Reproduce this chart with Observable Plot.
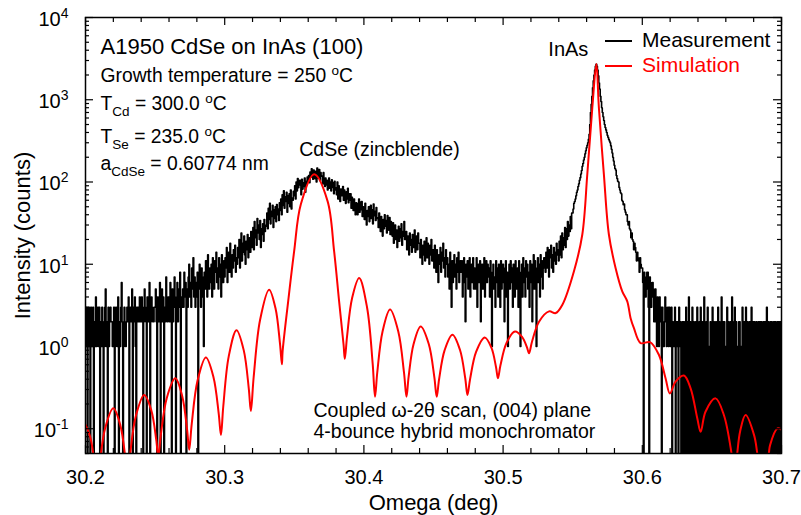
<!DOCTYPE html>
<html>
<head>
<meta charset="utf-8">
<script src="https://cdn.jsdelivr.net/npm/d3@7"></script>
<script src="https://cdn.jsdelivr.net/npm/@observablehq/plot@0.6"></script>
<style>
  html, body { margin: 0; padding: 0; background: #fff; }
  #chart svg { display: block; }
</style>
</head>
<body>
<div id="chart"></div>
<script>
// ---- Measured ω-2θ scan: detector counts every 0.0005° from 30.2000° to 30.7000° ----
// one row = 0.01°
const counts3020 = [
  2,1,3,0,2,3,1,0,3,2,1,3,0,2,1,4,1,2,3,1,
  3,0,2,1,3,2,0,1,3,5,1,2,0,3,1,2,3,2,2,1,
  2,3,0,1,3,2,1,4,0,2,1,3,6,2,0,1,3,2,1,2,
  3,2,4,0,2,3,2,5,0,3,2,4,1,0,3,2,3,2,4,2,
  2,4,3,0,2,5,3,2,0,4,2,3,6,0,2,4,3,2,2,3,
  3,5,2,0,4,2,3,6,0,3,5,2,4,0,3,2,7,3,2,4,
  4,2,6,3,0,5,2,4,7,3,0,4,6,2,5,3,8,0,4,3,
  5,3,8,4,6,0,5,3,7,10,4,6,3,9,5,12,4,7,3,6,
  4,8,0,6,10,5,3,9,7,4,1,8,5,11,6,4,13,7,5,9,
  6,10,4,12,7,5,11,8,14,6,9,5,12,7,10,4,13,8,6,11];
const counts3030 = [
  7,12,9,16,6,11,14,8,18,10,7,13,9,15,11,17,8,12,10,16,
  12,20,9,16,24,11,18,14,22,13,10,19,15,23,12,17,21,14,25,16,
  18,28,15,33,21,26,17,36,24,30,20,34,16,27,23,31,19,35,25,29,
  30,42,27,48,35,55,31,44,38,52,28,46,36,50,33,53,40,47,34,56,
  45,62,40,70,52,78,48,66,58,75,43,68,55,72,50,80,47,64,60,77,
  68,90,62,100,78,110,85,96,105,92,70,108,82,98,88,112,75,102,94,115,
  105,120,98,132,115,145,128,108,140,120,110,135,100,148,122,112,142,104,130,118,
  118,95,130,100,88,112,92,105,80,98,112,84,100,78,106,86,98,72,102,80,
  85,70,100,62,90,75,58,82,68,78,88,60,80,66,55,76,62,84,56,72,
  60,72,48,65,55,45,62,50,40,56,52,40,55,62,43,57,46,58,38,50];
const counts3040 = [
  48,35,55,40,30,45,38,50,33,42,52,36,46,31,54,39,44,34,49,37,
  36,28,42,30,25,38,32,22,35,27,40,29,34,24,39,31,26,37,23,33,
  28,22,32,18,25,30,20,26,16,24,29,19,27,21,31,17,25,22,33,20,
  20,25,15,22,18,13,24,17,20,14,23,16,21,26,14,19,22,15,24,18,
  18,12,20,15,10,17,13,19,11,16,21,12,18,14,10,17,13,20,11,15,
  14,9,17,11,8,15,12,6,13,10,16,8,14,11,18,9,12,7,15,10,
  12,7,10,5,14,8,3,11,6,9,13,7,10,5,12,8,14,6,9,11,
  8,11,4,9,12,6,2,10,7,11,5,9,12,4,8,10,6,12,5,9,
  5,9,12,3,8,10,6,11,2,7,10,5,9,12,4,8,11,6,10,7,
  9,4,11,6,1,8,10,5,7,3,11,6,9,4,10,7,3,11,5,8];
const counts3050 = [
  10,6,2,9,11,4,8,1,7,10,5,11,6,9,3,10,7,4,11,6,
  5,9,3,11,7,1,8,10,4,12,6,9,4,11,7,10,5,8,3,11,
  6,10,2,9,13,5,11,7,1,9,12,6,10,4,13,7,11,5,9,12,
  12,8,14,9,16,11,7,15,12,17,9,13,8,16,11,14,10,18,13,15,
  11,19,13,22,12,24,15,21,17,28,16,27,20,33,22,30,25,38,27,42,
  42,47,55,58,62,68,75,80,88,95,105,113,125,138,155,168,185,200,220,240,
  260,280,300,330,380,500,700,880,1100,1400,1700,2000,2300,2550,2700,2550,2300,1950,1600,1350,
  1100,950,800,700,620,560,500,460,430,400,370,350,330,315,300,275,250,225,200,180,
  160,146,140,120,110,102,100,86,80,74,72,60,58,53,54,46,43,40,40,33,
  30,33,27,26,21,24,20,19,15,18,16,14,11,14,12,11,8,12,10,9];
const counts3060 = [
  9,6,0,8,7,4,5,8,8,3,0,7,6,3,4,6,5,2,2,5,
  3,1,4,2,1,4,2,3,0,3,2,1,2,4,3,1,2,3,1,3,
  2,1,3,0,2,1,2,3,0,2,1,2,0,3,1,2,0,1,2,0,
  2,0,1,3,0,2,0,4,0,2,1,0,3,0,2,1,0,2,0,3,
  0,1,2,0,3,0,2,1,0,4,0,1,2,0,3,0,1,0,2,1,
  0,3,0,2,1,0,2,0,1,3,0,2,0,1,4,0,2,0,2,0,
  1,0,3,0,2,1,0,2,0,4,2,0,1,3,0,2,0,1,0,2,
  2,0,1,0,3,0,2,1,0,3,0,2,0,1,2,0,1,3,0,2,
  0,2,1,0,2,0,1,2,0,2,0,2,1,0,2,0,2,0,1,3,
  0,2,0,1,2,0,2,0,1,2,0,2,1,0,2,0,2,1,0,2,
  1];
const scanStart = 30.2, scanStep = 0.0005;

// ---- Dynamical-diffraction simulation (thickness fringes + substrate peak) ----
const simOmega = [
  30.1985,30.2034,30.2068,30.2083,30.2101,30.2142,30.2200,30.2251,30.2287,30.2302,
  30.2320,30.2362,30.2422,30.2473,30.2508,30.2523,30.2541,30.2584,30.2645,30.2695,
  30.2730,30.2745,30.2763,30.2805,30.2865,30.2919,30.2957,30.2973,30.2990,30.3029,
  30.3085,30.3137,30.3173,30.3188,30.3208,30.3254,30.3319,30.3365,30.3397,30.3411,
  30.3416,30.3456,30.3499,30.3547,30.3643,30.3739,30.3786,30.3822,30.3854,30.3863,
  30.3879,30.3915,30.3966,30.4023,30.4063,30.4080,30.4096,30.4134,30.4188,30.4247,
  30.4288,30.4306,30.4321,30.4357,30.4408,30.4466,30.4506,30.4523,30.4540,30.4580,
  30.4636,30.4690,30.4728,30.4744,30.4763,30.4806,30.4868,30.4916,30.4949,30.4963,
  30.4981,30.5024,30.5085,30.5136,30.5171,30.5186,30.5208,30.5258,30.5330,30.5378,
  30.5426,30.5509,30.5569,30.5605,30.5641,30.5670,30.5688,30.5724,30.5760,30.5808,
  30.5856,30.5892,30.5916,30.5940,30.5988,30.6055,30.6119,30.6167,30.6198,30.6239,
  30.6299,30.6347,30.6395,30.6419,30.6454,30.6526,30.6586,30.6641,30.6663,30.6682,
  30.6703,30.6742,30.6803,30.6826,30.6864,30.6880,30.6909,30.6918,30.6971,30.7000];
const simIntensity = [
  0.126,0.0794,0.0333,0.020,0.0366,0.103,0.177,0.109,0.0432,0.0251,
  0.048,0.144,0.258,0.167,0.0738,0.0457,0.0841,0.237,0.410,0.249,
  0.0966,0.0555,0.114,0.385,0.735,0.427,0.153,0.0838,0.189,0.759,
  1.58,0.897,0.308,0.164,0.423,2.10,4.91,2.91,1.09,0.608,
  0.869,3.54,14.4,53.5,124,58.6,14.4,3.54,1.05,0.708,
  1.33,3.86,6.81,2.96,0.618,0.245,0.483,1.52,2.81,1.52,
  0.483,0.245,0.424,1.07,1.75,1.07,0.424,0.245,0.397,0.902,
  1.39,0.912,0.411,0.258,0.403,0.861,1.29,0.968,0.564,0.410,
  0.590,1.10,1.52,1.31,0.982,0.828,1.15,2.00,2.67,2.55,
  3.22,8.22,23.0,125,805,2720,805,124,23.0,9.02,
  4.69,3.54,2.21,1.67,1.10,1.13,0.793,0.411,0.269,0.374,
  0.443,0.310,0.134,0.0918,0.161,0.234,0.147,0.0501,0.0251,0.0501,
  0.0933,0.147,0.0836,0.0501,0.0155,0.0204,0.0501,0.0632,0.101,0.0977];

// ---- Axes ----
const xTicks = [30.2, 30.3, 30.4, 30.5, 30.6, 30.7];
const xTickLabels = ["30.2", "30.3", "30.4", "30.5", "30.6", "30.7"];
const xMinorTicks = [30.22,30.24,30.26,30.28,30.32,30.34,30.36,30.38,30.42,30.44,
                     30.46,30.48,30.52,30.54,30.56,30.58,30.62,30.64,30.66,30.68];
const yTicks = [0.1, 1, 10, 100, 1000, 10000];
const yTickLabels = ["10^{-1}", "10^{0}", "10^{1}", "10^{2}", "10^{3}", "10^{4}"];
const yDomain = [0.05, 1e4];

// ---- Texts ----
const infoLines = [
  "A1950 CdSe on InAs (100)",
  "Growth temperature = 250 ^{o}C",
  "T_{Cd} = 300.0 ^{o}C",
  "T_{Se} = 235.0 ^{o}C",
  "a_{CdSe} = 0.60774 nm"];
const scanNotes = ["Coupled \u03C9-2\u03B8 scan, (004) plane", "4-bounce hybrid monochromator"];
const peakLabels = [
  {label: "CdSe (zincblende)", omega: 30.3643, intensity: 124},
  {label: "InAs", omega: 30.5670, intensity: 2720}];
const seriesNames = ["Measurement", "Simulation"];
const seriesColors = ["#000000", "#ff0000"];

// ---- Layout ----
const W = 801, H = 515;
const M = {top: 17, right: 20, bottom: 62, left: 85};
const innerW = W - M.left - M.right;
const innerH = H - M.top - M.bottom;
const FONT = "'Liberation Sans', Arial, Helvetica, sans-serif";

const measurement = [counts3020, counts3030, counts3040, counts3050, counts3060]
  .flat()
  .map((c, i) => ({omega: +(scanStart + i * scanStep).toFixed(4), counts: c}));
const simulation = simOmega.map((omega, i) => ({omega, intensity: simIntensity[i]}));

const yMinorTicks = d3.range(-2, 4)
  .flatMap(k => d3.range(2, 10).map(m => m * 10 ** k))
  .filter(v => v >= yDomain[0] && v < yDomain[1]);

const xTickData = xTicks.map((v, i) => ({v, label: xTickLabels[i]}));
const yTickData = yTicks.map((v, i) => ({v, label: yTickLabels[i]}));

const infoDy = [29, 58.6, 86.6, 119.6, 146.6];
const infoSize = [22, 19.3, 19.3, 19.3, 19.3];

// Legend drawn inside the top-right corner of the frame
function legendMark(index, scales, values, dims) {
  const g = d3.create("svg:g")
    .attr("font-size", 21).attr("font-family", FONT).attr("text-anchor", "start");
  const right = dims.width - dims.marginRight;
  const x0 = right - 176;
  seriesNames.forEach((name, i) => {
    const y = dims.marginTop + 24 + i * 25;
    g.append("line")
      .attr("x1", x0).attr("x2", x0 + 27).attr("y1", y).attr("y2", y)
      .attr("stroke", seriesColors[i]).attr("stroke-width", 2);
    g.append("text")
      .attr("x", x0 + 37).attr("y", y - 1).attr("dy", "0.35em")
      .attr("text-anchor", "start")
      .attr("fill", seriesColors[i]).text(name);
  });
  return g.node();
}

const chart = Plot.plot({
  width: W,
  height: H,
  marginTop: M.top,
  marginRight: M.right,
  marginBottom: M.bottom,
  marginLeft: M.left,
  x: {domain: [30.2, 30.7], axis: null},
  y: {type: "log", domain: yDomain, axis: null},
  style: {fontFamily: FONT, background: "#fff", color: "#000"},
  marks: [
    // zero counts are sent far below the frame so they show as drop lines
    Plot.line(measurement, {
      x: "omega",
      y: d => d.counts > 0 ? d.counts : 1e-6,
      stroke: seriesColors[0], strokeWidth: 1.6, curve: "step", clip: true
    }),
    Plot.line(simulation, {
      x: "omega", y: "intensity",
      stroke: seriesColors[1], strokeWidth: 2, curve: "catmull-rom", clip: true
    }),
    // inward ticks on all four sides
    Plot.ruleX(xTicks, {x: d => d, insetTop: innerH - 8, stroke: "#000", strokeWidth: 1.2}),
    Plot.ruleX(xTicks, {x: d => d, insetBottom: innerH - 8, stroke: "#000", strokeWidth: 1.2}),
    Plot.ruleX(xMinorTicks, {x: d => d, insetTop: innerH - 5, stroke: "#000", strokeWidth: 1.2}),
    Plot.ruleX(xMinorTicks, {x: d => d, insetBottom: innerH - 5, stroke: "#000", strokeWidth: 1.2}),
    Plot.ruleY(yTicks, {y: d => d, insetRight: innerW - 8, stroke: "#000", strokeWidth: 1.2}),
    Plot.ruleY(yTicks, {y: d => d, insetLeft: innerW - 8, stroke: "#000", strokeWidth: 1.2}),
    Plot.ruleY(yMinorTicks, {y: d => d, insetRight: innerW - 4, stroke: "#000", strokeWidth: 1.2}),
    Plot.ruleY(yMinorTicks, {y: d => d, insetLeft: innerW - 4, stroke: "#000", strokeWidth: 1.2}),
    Plot.frame({stroke: "#000", strokeWidth: 1.5}),
    // tick labels
    Plot.text(xTickData, {x: "v", text: "label", frameAnchor: "bottom", dy: 24,
      textAnchor: "middle", lineAnchor: "middle", fontSize: 20, fill: "#000"}),
    Plot.text(yTickData, {y: "v", text: "label", frameAnchor: "left", dx: -17, dy: 2,
      textAnchor: "end", lineAnchor: "middle", fontSize: 20, fill: "#000"}),
    // axis titles
    Plot.text(["Omega (deg)"], {frameAnchor: "bottom", dy: 49,
      textAnchor: "middle", lineAnchor: "middle", fontSize: 22, fill: "#000"}),
    Plot.text(["Intensity (counts)"], {frameAnchor: "left", dx: -63, rotate: -90,
      textAnchor: "middle", lineAnchor: "middle", fontSize: 22, fill: "#000"}),
    // sample description
    ...infoLines.map((t, i) => Plot.text([t], {frameAnchor: "top-left", dx: 15, dy: infoDy[i],
      textAnchor: "start", lineAnchor: "middle", fontSize: infoSize[i], fill: "#000"})),
    // scan notes
    ...scanNotes.map((t, i) => Plot.text([t], {frameAnchor: "top-left", dx: 228, dy: 393.6 + 21 * i,
      textAnchor: "start", lineAnchor: "middle", fontSize: 19.5, fill: "#000"})),
    // peak labels
    Plot.text([peakLabels[0]], {x: "omega", y: "intensity", text: "label", dx: -15, dy: -25,
      textAnchor: "start", lineAnchor: "middle", fontSize: 19.5, fill: "#000"}),
    Plot.text([peakLabels[1]], {x: "omega", y: "intensity", text: "label", dx: -8, dy: -14,
      textAnchor: "end", lineAnchor: "middle", fontSize: 20, fill: "#000"}),
    legendMark
  ]
});

document.getElementById("chart").append(chart);

// Turn ^{…} and _{…} markup into raised / lowered tspans
function applyRichText(root) {
  root.querySelectorAll("text").forEach(el => {
    const raw = el.textContent;
    if (!/[\^_]\{/.test(raw)) return;
    const size = parseFloat(getComputedStyle(el).fontSize) || 20;
    const parts = raw.split(/([\^_]\{[^}]*\})/).filter(s => s.length);
    while (el.firstChild) el.removeChild(el.firstChild);
    let shift = 0;
    for (const p of parts) {
      const m = /^([\^_])\{([^}]*)\}$/.exec(p);
      const ts = document.createElementNS("http://www.w3.org/2000/svg", "tspan");
      let target = 0;
      if (m) {
        target = m[1] === "^" ? -0.4 * size : 0.28 * size;
        ts.setAttribute("font-size", (0.7 * size).toFixed(1));
        ts.textContent = m[2];
      } else {
        ts.textContent = p;
      }
      ts.setAttribute("dy", (target - shift).toFixed(2));
      shift = target;
      el.appendChild(ts);
    }
  });
}
applyRichText(chart);
</script>
</body>
</html>
